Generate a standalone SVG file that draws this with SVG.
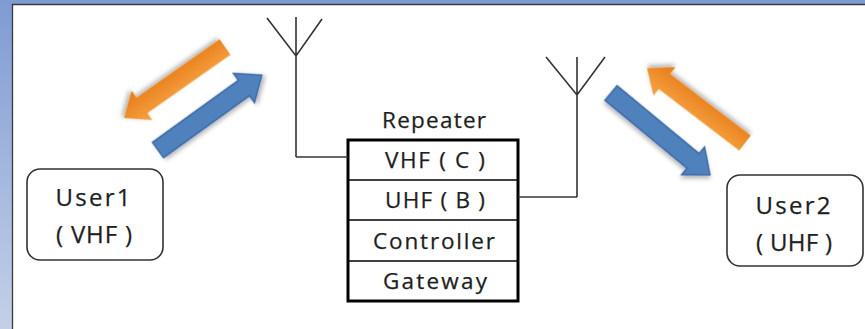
<svg xmlns="http://www.w3.org/2000/svg" width="865" height="329" viewBox="0 0 865 329">
  <defs>
    <linearGradient id="bg" x1="0" y1="0" x2="0" y2="1">
      <stop offset="0" stop-color="#7f9bd3"/>
      <stop offset="1" stop-color="#c4d0e8"/>
    </linearGradient>
    <linearGradient id="orange" x1="0" y1="-18" x2="0" y2="18" gradientUnits="userSpaceOnUse">
      <stop offset="0" stop-color="#f7a444"/>
      <stop offset="1" stop-color="#e67a16"/>
    </linearGradient>
    <filter id="shadow" x="-20%" y="-40%" width="140%" height="180%">
      <feDropShadow dx="1.5" dy="2.5" stdDeviation="2" flood-color="#000" flood-opacity="0.3"/>
    </filter>
  </defs>
  <style>
    .frame { fill: none; stroke: #3a3a3a; stroke-width: 1.3; }
    .wire { fill: none; stroke: #333333; stroke-width: 1.6; }
    .box { fill: #ffffff; stroke: #000000; stroke-width: 3; }
    .div { stroke: #000000; stroke-width: 1.6; }
    .user { fill: #ffffff; stroke: #333333; stroke-width: 1.6; }
    .t { font-family: "Open Sans", "Liberation Sans", sans-serif; font-size: 22.5px; fill: #1e1e1e; text-anchor: middle; stroke: #1e1e1e; stroke-width: 0.25; }
    .tu { font-family: "Open Sans", "Liberation Sans", sans-serif; font-size: 24px; fill: #1e1e1e; text-anchor: middle; stroke: #1e1e1e; stroke-width: 0.25; }
    .orange { fill: url(#orange); filter: url(#shadow); }
    .blue { fill: #4f81bd; stroke: #3a67a4; stroke-width: 1.4; filter: url(#shadow); }
  </style>

  <!-- background / slide frame -->
  <rect x="0" y="0" width="865" height="329" fill="url(#bg)"/>
  <rect x="12.5" y="4.5" width="853" height="325" fill="#ffffff"/>
  <path class="frame" d="M12.5,329 V4.5 H865"/>

  <!-- antennas -->
  <g id="antenna-left">
    <path class="wire" d="M267,18 L296,56 L322,19 M296,17 V157"/>
  </g>
  <g id="antenna-right">
    <path class="wire" d="M546,57 L577,95 L605,57 M577,57 V197"/>
  </g>

  <!-- repeater -->
  <g id="repeater">
    <text class="t" x="434" y="128" textLength="104" lengthAdjust="spacing">Repeater</text>
    <rect class="box" x="348" y="140" width="170" height="161"/>
    <line class="div" x1="348" y1="180" x2="518" y2="180"/>
    <line class="div" x1="348" y1="220" x2="518" y2="220"/>
    <line class="div" x1="348" y1="261" x2="518" y2="261"/>
    <text class="t" x="435" y="168" textLength="100" lengthAdjust="spacing">VHF ( C )</text>
    <text class="t" x="435" y="208" textLength="100" lengthAdjust="spacing">UHF ( B )</text>
    <text class="t" x="434" y="249" textLength="122" lengthAdjust="spacing">Controller</text>
    <text class="t" x="435" y="289" textLength="104" lengthAdjust="spacing">Gateway</text>
  </g>

  <!-- users -->
  <g id="user1">
    <rect class="user" x="27" y="169" width="136" height="91" rx="13" ry="13"/>
    <text class="tu" x="93" y="206" textLength="75" lengthAdjust="spacing">User1</text>
    <text class="tu" x="94" y="243" textLength="76" lengthAdjust="spacing">( VHF )</text>
  </g>
  <g id="user2">
    <rect class="user" x="727" y="175" width="136" height="91" rx="13" ry="13"/>
    <text class="tu" x="793" y="214" textLength="75" lengthAdjust="spacing">User2</text>
    <text class="tu" x="794" y="251" textLength="76" lengthAdjust="spacing">( UHF )</text>
  </g>

  <!-- connectors -->
  <g id="connectors">
    <path class="wire" d="M296,157 H348"/>
    <path class="wire" d="M518,197 H577"/>
    <path class="orange" transform="translate(225,47) rotate(144.9)" d="M0,-9.5 H101.5 V-18 L123.5,0 L101.5,18 V9.5 H0 Z"/>
    <path class="blue" transform="translate(158,150) rotate(-35.8)" d="M0,-9.5 H106 V-18 L128,0 L106,18 V9.5 H0 Z"/>
    <path class="blue" transform="translate(611,93) rotate(39.6)" d="M0,-9.5 H106.5 V-18 L128.5,0 L106.5,18 V9.5 H0 Z"/>
    <path class="orange" transform="translate(745,143) rotate(-142.6)" d="M0,-9.5 H101.4 V-18 L123.4,0 L101.4,18 V9.5 H0 Z"/>
  </g>
</svg>
